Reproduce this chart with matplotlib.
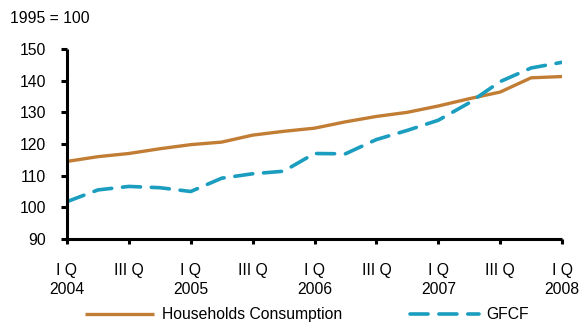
import matplotlib
matplotlib.use("Agg")
import matplotlib.pyplot as plt

plt.rcParams["font.family"] = ["Liberation Sans", "DejaVu Sans"]

# Quarterly index values, 2004 Q1 .. 2008 Q1 (1995 = 100)
quarters = list(range(17))
households = [114.5, 116.0, 117.0, 118.5, 119.8, 120.6, 122.8, 124.0, 125.0,
              127.0, 128.7, 130.0, 132.0, 134.3, 136.4, 140.9, 141.3]
gfcf = [101.8, 105.5, 106.6, 106.2, 105.0, 109.2, 110.6, 111.4, 117.0,
        116.9, 121.4, 124.3, 127.5, 133.0, 139.7, 144.0, 145.8]

tick_pos = [0, 2, 4, 6, 8, 10, 12, 14, 16]
tick_labels = ["I Q\n2004", "III Q", "I Q\n2005", "III Q", "I Q\n2006",
               "III Q", "I Q\n2007", "III Q", "I Q\n2008"]

brown = "#C27D35"
teal = "#1A9DBE"
fs = 11.3

fig = plt.figure(figsize=(5.82, 3.22), dpi=100)
ax = fig.add_axes([67 / 582, 1 - 239 / 322, 495 / 582, 190 / 322])

ax.plot(quarters, households, color=brown, lw=2.4,
        solid_capstyle="butt", label="Households Consumption")
ax.plot(quarters, gfcf, color=teal, lw=2.6, dashes=(5, 3),
        dash_capstyle="round", label="GFCF")

ax.set_xlim(0, 16)
ax.set_ylim(90, 150)
ax.set_yticks(range(90, 151, 10))
ax.set_xticks(tick_pos)
ax.set_xticklabels(tick_labels, linespacing=1.35)

for side in ["top", "right"]:
    ax.spines[side].set_visible(False)
for side in ["left", "bottom"]:
    ax.spines[side].set_linewidth(2.2)
    ax.spines[side].set_capstyle("butt")

ax.tick_params(axis="y", direction="out", length=4, width=2.2,
               labelsize=fs, pad=11)
ax.tick_params(axis="x", direction="out", length=3.5, width=2.2,
               labelsize=fs, pad=13.5)
for lbl in ax.get_xticklabels():
    lbl.set_verticalalignment("top")

fig.text(10 / 582, 1 - 18.5 / 322, "1995 = 100", fontsize=fs,
         va="center", ha="left")

fig.legend(loc="center left", bbox_to_anchor=(85 / 582, 1 - 314.7 / 322),
           ncol=2, frameon=False, fontsize=fs, handlelength=4.4,
           handletextpad=0.5, columnspacing=4.3, borderpad=0,
           borderaxespad=0)

fig.savefig("out.png", dpi=100)
